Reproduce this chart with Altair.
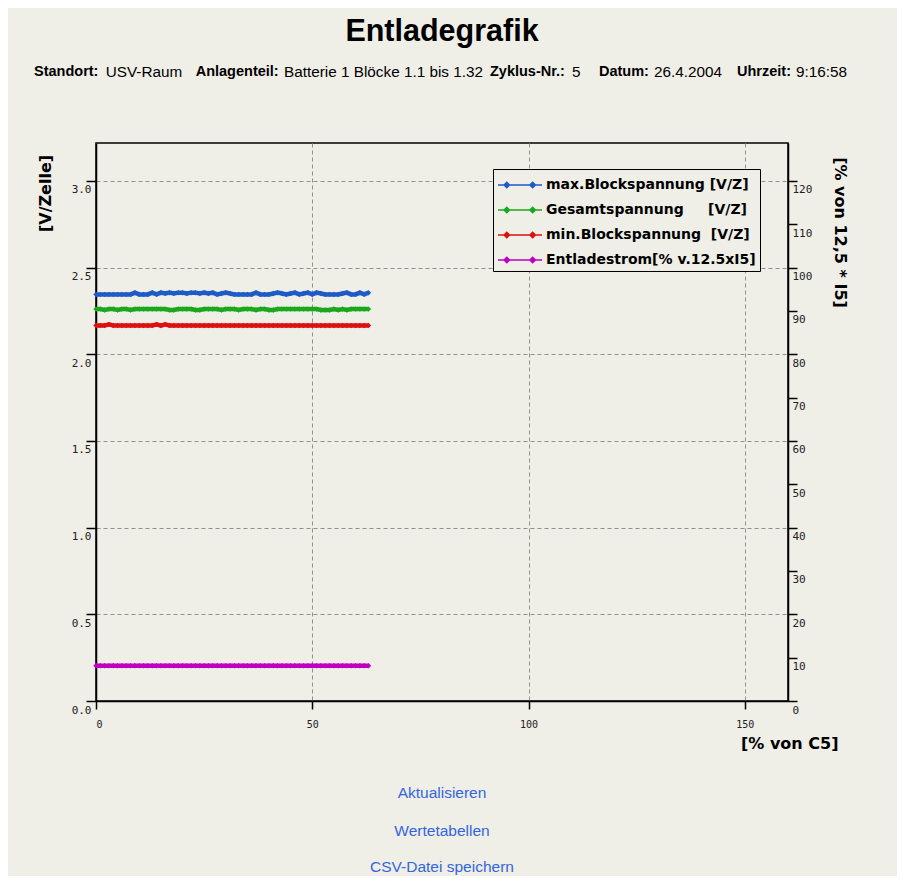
import altair as alt
import pandas as pd

# ---------------- data ----------------
x_pct = [0, 1, 2, 3, 4, 5, 6, 7, 8, 9, 10, 11, 12, 13, 14, 15,
         16, 17, 18, 19, 20, 21, 22, 23, 24, 25, 26, 27, 28, 29, 30, 31,
         32, 33, 34, 35, 36, 37, 38, 39, 40, 41, 42, 43, 44, 45, 46, 47,
         48, 49, 50, 51, 52, 53, 54, 55, 56, 57, 58, 59, 60, 61, 62, 63]

max_block = [2.345, 2.345, 2.345, 2.345, 2.345, 2.345, 2.345, 2.345, 2.345, 2.355, 2.345, 2.345, 2.345, 2.355, 2.345, 2.355,
             2.350, 2.355, 2.350, 2.355, 2.355, 2.350, 2.355, 2.355, 2.350, 2.355, 2.350, 2.355, 2.345, 2.350, 2.355, 2.350,
             2.345, 2.345, 2.345, 2.345, 2.345, 2.355, 2.345, 2.345, 2.345, 2.350, 2.355, 2.350, 2.345, 2.350, 2.355, 2.345,
             2.350, 2.355, 2.345, 2.355, 2.350, 2.345, 2.345, 2.345, 2.345, 2.350, 2.355, 2.345, 2.345, 2.355, 2.345, 2.355]

gesamt = [2.260, 2.260, 2.255, 2.260, 2.260, 2.255, 2.260, 2.260, 2.255, 2.260, 2.260, 2.260, 2.260, 2.260, 2.260, 2.260,
          2.260, 2.255, 2.255, 2.260, 2.260, 2.260, 2.260, 2.255, 2.255, 2.260, 2.260, 2.260, 2.260, 2.255, 2.260, 2.260,
          2.260, 2.255, 2.260, 2.260, 2.260, 2.255, 2.260, 2.260, 2.255, 2.255, 2.260, 2.260, 2.260, 2.260, 2.260, 2.260,
          2.260, 2.260, 2.260, 2.260, 2.255, 2.255, 2.255, 2.260, 2.255, 2.260, 2.255, 2.260, 2.260, 2.260, 2.260, 2.260]

min_block = [2.165, 2.165, 2.165, 2.172, 2.165, 2.165, 2.165, 2.165, 2.165, 2.165, 2.165, 2.165, 2.165, 2.165, 2.172, 2.165,
             2.172, 2.165, 2.165, 2.165, 2.165, 2.165, 2.165, 2.165, 2.165, 2.165, 2.165, 2.165, 2.165, 2.165, 2.165, 2.165,
             2.165, 2.165, 2.165, 2.165, 2.165, 2.165, 2.165, 2.165, 2.165, 2.165, 2.165, 2.165, 2.165, 2.165, 2.165, 2.165,
             2.165, 2.165, 2.165, 2.165, 2.165, 2.165, 2.165, 2.165, 2.165, 2.165, 2.165, 2.165, 2.165, 2.165, 2.165, 2.165]

entlade = [8.15] * 64

NB = "\u00a0"
series_names = ["max.Blockspannung [V/Z]",
                "Gesamtspannung" + NB * 5 + "[V/Z]",
                "min.Blockspannung" + NB * 2 + "[V/Z]",
                "Entladestrom[% v.12.5xI5]"]
series_colors = ["#1f5bc6", "#1aa81c", "#dd1111", "#c000c0"]

left_ticks = [0.0, 0.5, 1.0, 1.5, 2.0, 2.5, 3.0]
right_ticks = [0, 10, 20, 30, 40, 50, 60, 70, 80, 90, 100, 110, 120]
x_ticks = [0, 50, 100, 150]

title_text = "Entladegrafik"
header_parts = [("Standort:", True), ("USV-Raum", False),
                ("Anlagenteil:", True), ("Batterie 1 Blöcke 1.1 bis 1.32", False),
                ("Zyklus-Nr.:", True), ("5", False),
                ("Datum:", True), ("26.4.2004", False),
                ("Uhrzeit:", True), ("9:16:58", False)]
header_x = [-62, 9.7, 99.7, 188, 394, 476, 503, 558, 641, 700]
links = ["Aktualisieren", "Wertetabellen", "CSV-Datei speichern"]
links_y = [650, 688, 724]

BG = "#efeee7"
GRID = "#8c9191"

# ---------------- tables ----------------
volt_df = pd.DataFrame({
    "x": x_pct * 3,
    "value": max_block + gesamt + min_block,
    "series": [series_names[0]] * len(x_pct) + [series_names[1]] * len(x_pct) + [series_names[2]] * len(x_pct),
})
cur_df = pd.DataFrame({"x": x_pct, "value": entlade, "series": [series_names[3]] * len(x_pct)})

legend_path = ("M-2,0H2"
               "M-1.2,-0.25L-0.95,0L-1.2,0.25L-1.45,0Z"
               "M1.15,-0.25L1.4,0L1.15,0.25L0.9,0Z")

legend = alt.Legend(orient="none", legendX=397, legendY=26, title=None,
                    symbolType=legend_path, symbolSize=484, symbolStrokeWidth=1.5,
                    symbolOffset=11,
                    labelFont="DejaVu Sans", labelFontSize=14, labelFontWeight="bold",
                    labelColor="black", labelOffset=14, labelLimit=400,
                    strokeColor="black", padding=4, rowPadding=6,
                    fillColor=BG)

color = alt.Color("series:N", scale=alt.Scale(domain=series_names, range=series_colors),
                  legend=legend)

x_enc = alt.X("x:Q", scale=alt.Scale(domain=[0, 160], nice=False),
              axis=alt.Axis(values=x_ticks, format="d", grid=True, gridDash=[4, 3], gridColor=GRID,
                            gridWidth=1, tickSize=8, labelPadding=10,
                            labelFont="DejaVu Sans Mono", labelFontSize=10, labelColor="#222",
                            title="[% von C5]", titleX=742, titleY=42, titleAlign="right",
                            titleBaseline="middle", titleAngle=0,
                            titleFont="DejaVu Sans", titleFontSize=16, titleFontWeight="bold",
                            titleColor="black"))

pt = alt.OverlayMarkDef(shape="diamond", size=30, filled=True)

left = alt.Chart(volt_df).mark_line(strokeWidth=4.5, point=pt).encode(
    x=x_enc,
    y=alt.Y("value:Q", scale=alt.Scale(domain=[0, 3.218], nice=False),
            axis=alt.Axis(orient="left", values=left_ticks, format=".1f",
                          grid=True, gridDash=[4, 3], gridColor=GRID, gridWidth=1,
                          tickSize=10, labelPadding=-5, labelAlign="right",
                          labelBaseline="top", labelOffset=3,
                          labelFont="DejaVu Sans Mono", labelFontSize=11, labelColor="#222",
                          title="[V/Zelle]", titleX=-51, titleY=50, titleAngle=-90,
                          titleAlign="center", titleBaseline="middle",
                          titleFont="DejaVu Sans", titleFontSize=16, titleFontWeight="bold",
                          titleColor="black")),
    color=color,
    order="x:Q",
)

right = alt.Chart(cur_df).mark_line(strokeWidth=4.5, point=pt).encode(
    x=alt.X("x:Q", scale=alt.Scale(domain=[0, 160], nice=False)),
    y=alt.Y("value:Q", scale=alt.Scale(domain=[0, 128.72], nice=False),
            axis=alt.Axis(orient="right", values=right_ticks, format="d", grid=False,
                          tickSize=9, labelPadding=-5, labelAlign="left",
                          labelBaseline="top", labelOffset=3,
                          labelFont="DejaVu Sans Mono", labelFontSize=11, labelColor="#222",
                          title="[% von 12,5 * I5]", titleX=51, titleY=89, titleAngle=90,
                          titleAlign="center", titleBaseline="middle",
                          titleFont="DejaVu Sans", titleFontSize=16, titleFontWeight="bold",
                          titleColor="black")),
    color=color,
    order="x:Q",
)

texts = []
texts.append(alt.Chart(pd.DataFrame({"t": [title_text]})).mark_text(
    font="Liberation Sans", fontSize=30.5, fontWeight="bold", color="black",
    align="center", baseline="middle").encode(
    x=alt.value(346), y=alt.value(-111), text="t:N"))

for (txt, bold), px in zip(header_parts, header_x):
    texts.append(alt.Chart(pd.DataFrame({"t": [txt]})).mark_text(
        font="Liberation Sans", fontSize=14.5 if bold else 15.3,
        fontWeight="bold" if bold else "normal",
        color="black", align="left", baseline="middle").encode(
        x=alt.value(px), y=alt.value(-71), text="t:N"))

for txt, py in zip(links, links_y):
    texts.append(alt.Chart(pd.DataFrame({"t": [txt]})).mark_text(
        font="Liberation Sans", fontSize=15.5, color="#3366dd",
        align="center", baseline="middle").encode(
        x=alt.value(346), y=alt.value(py), text="t:N"))

chart = alt.layer(left, right, *texts).resolve_scale(y="independent").properties(
    width=692, height=558,
    autosize=alt.AutoSizeParams(type="none"),
    padding={"left": 88, "top": 135, "right": 109, "bottom": 175},
).configure(background=BG).configure_view(
    stroke="black", strokeWidth=1.5, fill=BG
).configure_axis(
    domainColor="black", domainWidth=1.5, tickColor="black", tickWidth=1.5
)

chart.save("out.html", embed_options={"renderer": "svg", "actions": False})
